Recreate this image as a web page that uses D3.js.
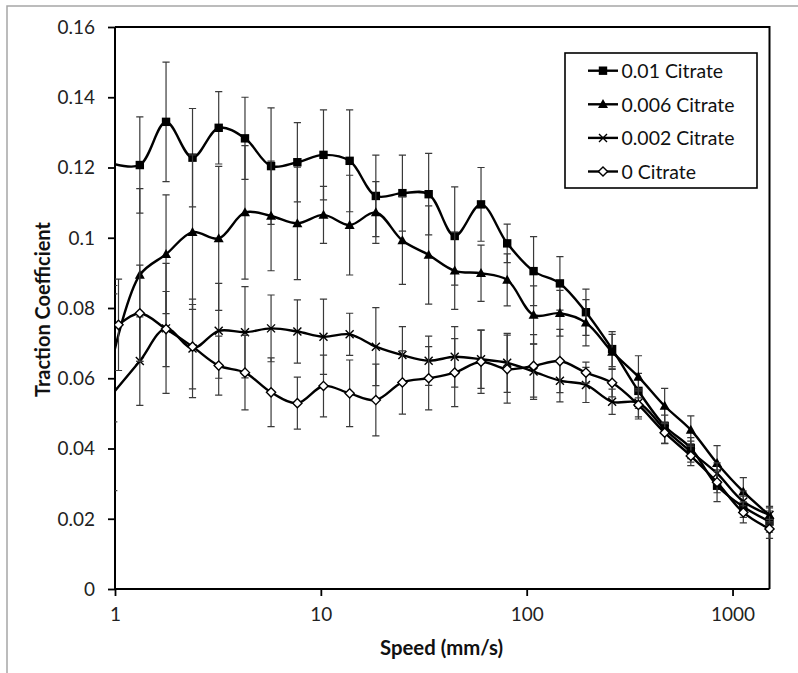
<!DOCTYPE html>
<html><head><meta charset="utf-8">
<script src="https://cdn.jsdelivr.net/npm/d3@7"></script>
<style>body{margin:0;background:#fff}svg{display:block}</style>
</head><body><svg id="c" width="798" height="673"></svg>
<script>
// ---------------- data ----------------
const seriesNames = ["0.01 Citrate", "0.006 Citrate", "0.002 Citrate", "0 Citrate"];
const speeds = [0.986, 1.32, 1.77, 2.38, 3.19, 4.28, 5.73, 7.69, 10.3, 13.8, 18.5, 24.9, 33.4,
  44.7, 60.0, 80.4, 108, 145, 194, 260, 349, 468, 627, 841, 1128, 1512];
const speedsZero = [1.04, 1.32, 1.77, 2.38, 3.19, 4.28, 5.73, 7.69, 10.3, 13.8, 18.5, 24.9, 33.4,
  44.7, 60.0, 80.4, 108, 145, 194, 260, 349, 468, 627, 841, 1128, 1512];

const tc010 = [0.121, 0.1207, 0.1330, 0.1228, 0.1313, 0.1283, 0.1204, 0.1215, 0.1236, 0.1219, 0.1119, 0.1127, 0.1124,
  0.1005, 0.1095, 0.0984, 0.0905, 0.0870, 0.0788, 0.0683, 0.0564, 0.0464, 0.0401, 0.0294, 0.0234, 0.0192];
const err010 = [0, 0.0137, 0.017, 0.014, 0.0103, 0.0117, 0.0166, 0.0113, 0.0128, 0.0145, 0.0116, 0.0108, 0.0116,
  0.014, 0.0105, 0.0055, 0.0098, 0.0076, 0.0066, 0.005, 0.005, 0.005, 0.003, 0.0045, 0.003, 0.003];

const tc006 = [0.067, 0.0894, 0.0953, 0.1016, 0.0998, 0.1072, 0.1062, 0.1041, 0.1065, 0.1036, 0.1072, 0.0992, 0.0951,
  0.0906, 0.0899, 0.0880, 0.0780, 0.0785, 0.0758, 0.0675, 0.0604, 0.0521, 0.0453, 0.0358, 0.0277, 0.0210];
const err006 = [0.0194, 0.0246, 0.0169, 0.022, 0.0205, 0.019, 0.0156, 0.016, 0.0081, 0.0142, 0.0088, 0.0125, 0.014,
  0.011, 0.008, 0.0074, 0.0083, 0.0065, 0.0066, 0.005, 0.006, 0.005, 0.004, 0.005, 0.004, 0.0025];

const tc002 = [0.056, 0.0649, 0.0742, 0.0685, 0.0735, 0.0731, 0.0742, 0.0733, 0.0718, 0.0725, 0.0690, 0.0666, 0.0650,
  0.0661, 0.0654, 0.0644, 0.0619, 0.0593, 0.0581, 0.0533, 0.0530, 0.0455, 0.0391, 0.0329, 0.0249, 0.0211];
const err002 = [0.028, 0.0126, 0.0185, 0.014, 0.0135, 0.013, 0.0095, 0.009, 0.0107, 0.006, 0.0111, 0.0081, 0.007,
  0.0086, 0.0083, 0.0084, 0.0079, 0.006, 0.005, 0.0036, 0.004, 0.004, 0.003, 0.003, 0.003, 0.002];

const tc000 = [0.0752, 0.0785, 0.0740, 0.0690, 0.0636, 0.0616, 0.0560, 0.0529, 0.0578, 0.0557, 0.0538, 0.0588, 0.0600,
  0.0616, 0.0647, 0.0626, 0.0635, 0.0649, 0.0616, 0.0587, 0.0524, 0.0445, 0.0379, 0.0304, 0.0218, 0.0171];
const err000 = [0.013, 0.0137, 0.0107, 0.012, 0.0084, 0.0106, 0.0098, 0.0074, 0.0088, 0.0095, 0.0102, 0.009, 0.009,
  0.0097, 0.009, 0.0097, 0.0089, 0.009, 0.003, 0.004, 0.004, 0.003, 0.0028, 0.003, 0.003, 0.0027];

const yTicks = [0, 0.02, 0.04, 0.06, 0.08, 0.1, 0.12, 0.14, 0.16];
const yTickLabels = ["0", "0.02", "0.04", "0.06", "0.08", "0.1", "0.12", "0.14", "0.16"];
const xTicks = [1, 10, 100, 1000];
const xTickLabels = ["1", "10", "100", "1000"];
const xTitle = "Speed (mm/s)";
const yTitle = "Traction Coefficient";
const markerTypes = ["square", "triangle", "cross", "diamond"];

// ---------------- layout ----------------
const FONT = "Lato, 'Open Sans', sans-serif";
const L = 115, R = 769.5, T = 27, B = 589;
const x = d3.scaleLog().domain([1, 1512]).range([L, R]);
const y = d3.scaleLinear().domain([0, 0.16]).range([B, T]);

const svg = d3.select("#c");
svg.append("rect").attr("width", 798).attr("height", 673).attr("fill", "#fff");

// outer chart frame (only top & left visible)
svg.append("path").attr("d", "M7,673 V6 H798").attr("fill", "none")
  .attr("stroke", "#a6a6a6").attr("stroke-width", 1.5);

function fit(sel, target) {
  const w = sel.node().getComputedTextLength();
  return parseFloat(sel.attr("font-size")) * target / w;
}

// y axis
const yAxis = svg.append("g").attr("transform", `translate(${L},0)`)
  .call(d3.axisLeft(y).tickValues(yTicks).tickSize(7).tickPadding(13)
    .tickFormat((d, i) => yTickLabels[i]));
yAxis.select(".domain").remove();
yAxis.selectAll(".tick line").attr("stroke", "#000").attr("stroke-width", 1.8);
yAxis.selectAll(".tick text").attr("font-family", FONT).attr("font-size", 18).attr("fill", "#222")
  .attr("dy", "0.34em");

// x axis
const xAxis = svg.append("g").attr("transform", `translate(0,${B})`)
  .call(d3.axisBottom(x).tickValues(xTicks).tickSize(7).tickPadding(12)
    .tickFormat((d, i) => xTickLabels[i]));
xAxis.select(".domain").remove();
xAxis.selectAll(".tick line").attr("stroke", "#000").attr("stroke-width", 1.8);
xAxis.selectAll(".tick text").attr("font-family", FONT).attr("font-size", 18).attr("fill", "#222");

// fit tick font to measured label widths
{
  const t1000 = xAxis.selectAll(".tick text").filter((d) => d === 1000);
  const fs = fit(t1000, 44);
  xAxis.selectAll(".tick text").attr("font-size", fs);
  yAxis.selectAll(".tick text").attr("font-size", fs);
}

// axis lines + plot border
svg.append("path").attr("d", `M${L},${T} V${B} H${R}`).attr("fill", "none")
  .attr("stroke", "#000").attr("stroke-width", 2);
svg.append("path").attr("d", `M${L},${T} H${R} V${B}`).attr("fill", "none")
  .attr("stroke", "#000").attr("stroke-width", 2);

// titles
const yt = svg.append("text").attr("transform", "translate(42,309.5) rotate(-90)")
  .attr("text-anchor", "middle").attr("dominant-baseline", "central")
  .attr("font-family", FONT).attr("font-weight", "bold").attr("font-size", 18).attr("fill", "#111").text(yTitle);
yt.attr("font-size", fit(yt, 175));
const xt = svg.append("text").attr("x", 441.5).attr("y", 647)
  .attr("text-anchor", "middle").attr("dominant-baseline", "central")
  .attr("font-family", FONT).attr("font-weight", "bold").attr("font-size", 18).attr("fill", "#111").text(xTitle);
xt.attr("font-size", fit(xt, 123));

// clip (left edge of plot)
svg.append("clipPath").attr("id", "clip").append("rect")
  .attr("x", L).attr("y", 0).attr("width", 798 - L).attr("height", 673);

const series = [
  { name: seriesNames[0], xs: speeds, ys: tc010, es: err010, m: markerTypes[0] },
  { name: seriesNames[1], xs: speeds, ys: tc006, es: err006, m: markerTypes[1] },
  { name: seriesNames[2], xs: speeds, ys: tc002, es: err002, m: markerTypes[2] },
  { name: seriesNames[3], xs: speedsZero, ys: tc000, es: err000, m: markerTypes[3] },
].map(s => ({ ...s, pts: s.xs.map((v, i) => ({ x: v, y: s.ys[i], e: s.es[i] })) }));

function drawMarker(g, type, cx, cy) {
  if (type === "square") {
    g.append("rect").attr("x", cx - 4.2).attr("y", cy - 4.2).attr("width", 8.4).attr("height", 8.4).attr("fill", "#000");
  } else if (type === "triangle") {
    g.append("path").attr("d", `M${cx},${cy - 5.2} L${cx + 5},${cy + 3.8} L${cx - 5},${cy + 3.8} Z`).attr("fill", "#000");
  } else if (type === "cross") {
    g.append("path").attr("d", `M${cx - 4},${cy - 4} L${cx + 4},${cy + 4} M${cx - 4},${cy + 4} L${cx + 4},${cy - 4}`)
      .attr("stroke", "#000").attr("stroke-width", 1.4).attr("fill", "none");
  } else {
    g.append("path").attr("d", `M${cx},${cy - 4.6} L${cx + 4.6},${cy} L${cx},${cy + 4.6} L${cx - 4.6},${cy} Z`)
      .attr("fill", "#fff").attr("stroke", "#000").attr("stroke-width", 1.4);
  }
}

const plot = svg.append("g").attr("clip-path", "url(#clip)");
const line = d3.line().x(d => x(d.x)).y(d => y(d.y)).curve(d3.curveCatmullRom.alpha(0.5));

series.forEach(s => {
  const g = plot.append("g");
  // error bars
  s.pts.filter(p => p.e > 0).forEach(p => {
    const px = x(p.x), y1 = y(p.y + p.e), y2 = y(p.y - p.e);
    g.append("path")
      .attr("d", `M${px},${y1} V${y2} M${px - 3.6},${y1} H${px + 3.6} M${px - 3.6},${y2} H${px + 3.6}`)
      .attr("stroke", "#3a3a3a").attr("stroke-width", 1.2).attr("fill", "none");
  });
  g.append("path").datum(s.pts).attr("d", line).attr("fill", "none")
    .attr("stroke", "#000").attr("stroke-width", 2.4);
  s.pts.filter(p => p.x >= 1).forEach(p => drawMarker(g, s.m, x(p.x), y(p.y)));
});

// legend
const lg = svg.append("g");
lg.append("rect").attr("x", 565).attr("y", 53).attr("width", 192).attr("height", 135)
  .attr("fill", "#fff").attr("stroke", "#000").attr("stroke-width", 1.6);
const texts = [];
series.forEach((s, i) => {
  const cy = 70.7 + i * 33.6;
  lg.append("line").attr("x1", 588).attr("x2", 618).attr("y1", cy).attr("y2", cy)
    .attr("stroke", "#000").attr("stroke-width", 2.4);
  drawMarker(lg, s.m, 603, cy);
  texts.push(lg.append("text").attr("x", 621.5).attr("y", cy).attr("dominant-baseline", "central")
    .attr("font-family", FONT).attr("font-size", 18).attr("fill", "#111").text(s.name));
});
{
  const fs = fit(texts[0], 101.7);
  texts.forEach(t => t.attr("font-size", fs));
}
</script>
</body></html>
